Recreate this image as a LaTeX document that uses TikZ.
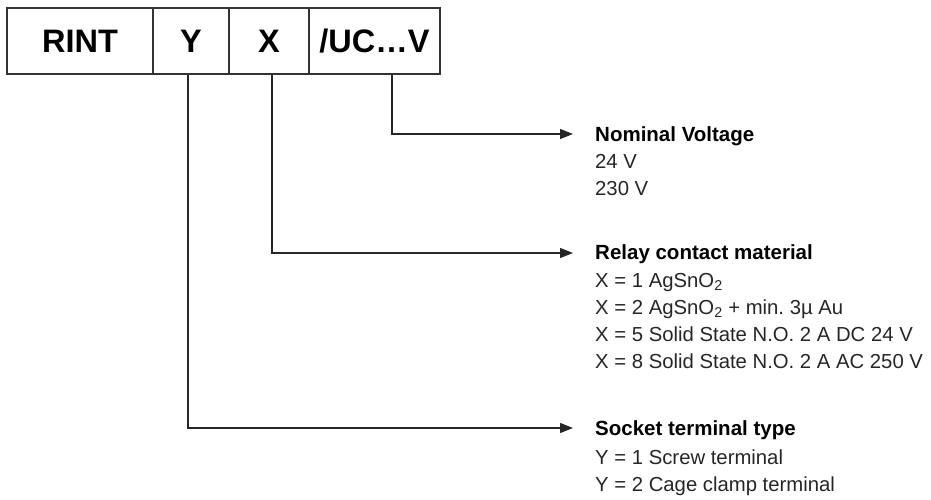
\documentclass[tikz,border=0pt]{standalone}
\usepackage{fontspec}
\setmainfont{Liberation Sans}
\usetikzlibrary{arrows.meta,calc}
\frenchspacing
\begin{document}
\begin{tikzpicture}[x=1pt,y=-1pt,
  cell/.style={draw=black!80,line width=1.4pt,fill=white,minimum height=66pt,inner sep=0pt,font=\fontsize{32.5}{36}\selectfont\bfseries},
  conn/.style={draw=black!85,line width=1.3pt,-{Triangle[length=13pt,width=10pt]}},
  head/.style={anchor=base west,inner sep=0pt,font=\fontsize{20.5}{24}\selectfont\bfseries},
  item/.style={anchor=base west,inner sep=0pt,font=\fontsize{20.3}{24}\selectfont,text=black!85}]
\useasboundingbox (0,0) rectangle (931,500);
% code box
\node[cell,minimum width=146pt] (rint) at (80,41) {RINT};
\node[cell,minimum width=76pt] (ycell) at (191,41) {Y};
\node[cell,minimum width=80pt] (xcell) at (269,41) {X};
\node[cell,minimum width=131pt] (uc) at (374.5,41) {/UC…V};
% arrow tips
\coordinate (tipN) at (573,134);
\coordinate (tipR) at (573,253);
\coordinate (tipS) at (573,428);
% connectors
\draw[conn] ([xshift=17.5pt]uc.south) |- (tipN);
\draw[conn] ([xshift=3pt]xcell.south) |- (tipR);
\draw[conn] ([xshift=-3pt]ycell.south) |- (tipS);
% Nominal voltage
\node[head] (nh) at (595,141) {Nominal Voltage};
\node[item] (n1) at (595,168) {24 V};
\node[item] (n2) at (595,195) {230 V};
% Relay contact material
\node[head] (rh) at (595,259) {Relay contact material};
\node[item] (r1) at (595,287) {X = 1 AgSnO\textsubscript{2}};
\node[item] (r2) at (595,314) {X = 2 AgSnO\textsubscript{2} + min. 3µ Au};
\node[item] (r3) at (595,341) {X = 5 Solid State N.O. 2 A DC 24 V};
\node[item] (r4) at (595,368) {X = 8 Solid State N.O. 2 A AC 250 V};
% Socket terminal type
\node[head] (sh) at (595,435) {Socket terminal type};
\node[item] (s1) at (595,464) {Y = 1 Screw terminal};
\node[item] (s2) at (595,491) {Y = 2 Cage clamp terminal};
\end{tikzpicture}
\end{document}
